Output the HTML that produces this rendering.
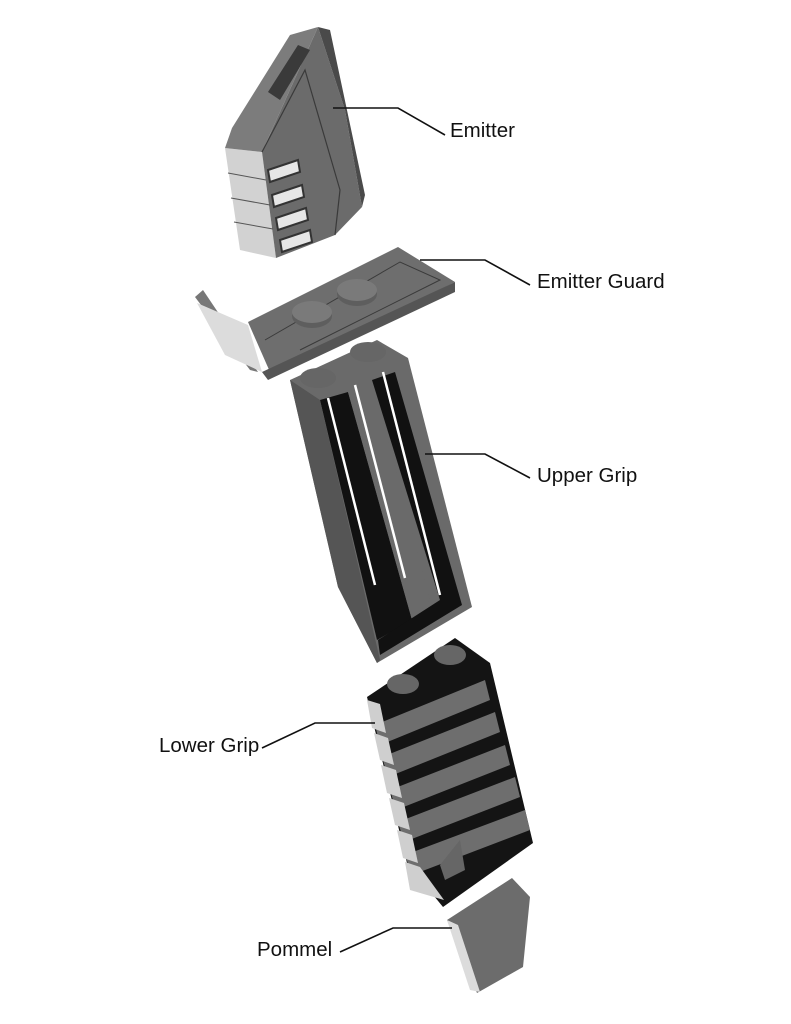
<!DOCTYPE html>
<html><head><style>
body{margin:0;background:#fff;}
svg{display:block;}
text{font-family:"Liberation Sans",sans-serif;font-size:20.5px;fill:#111;}
</style></head><body>
<svg width="791" height="1024" viewBox="0 0 791 1024">
<!-- Emitter -->
<polygon points="225,148 262,152 276,258 240,250" fill="#d2d2d2"/>
<polygon points="262,152 318,27 345,110 362,207 335,235 276,258" fill="#6b6b6b"/>
<polygon points="232,128 290,35 318,27 262,152 225,148" fill="#7c7c7c"/>
<polygon points="318,27 330,30 365,195 362,207 345,110" fill="#4a4a4a"/>
<polygon points="268,92 298,45 310,50 280,100" fill="#3a3a3a" rx="4"/>
<polyline points="262,152 305,70 340,190 335,235" fill="none" stroke="#3a3a3a" stroke-width="1.2"/>
<g fill="#e6e6e6" stroke="#333" stroke-width="2">
<polygon points="268,170 298,160 300,172 270,182"/>
<polygon points="272,195 302,185 304,197 274,207"/>
<polygon points="276,218 306,208 308,220 278,230"/>
<polygon points="280,240 310,230 312,242 282,252"/>
</g>
<g stroke="#555" stroke-width="1"><line x1="228" y1="173" x2="266" y2="180"/><line x1="231" y1="198" x2="270" y2="205"/><line x1="234" y1="222" x2="273" y2="229"/></g>
<!-- Emitter Guard -->
<polygon points="195,297 250,370 258,372 203,290" fill="#777"/>
<polygon points="197,303 248,325 262,372 225,355" fill="#dcdcdc"/>
<polygon points="248,322 398,247 455,282 270,372" fill="#6e6e6e"/>
<polygon points="262,372 455,282 455,292 268,380" fill="#555"/>
<polyline points="265,340 400,262 440,280 300,350" fill="none" stroke="#3a3a3a" stroke-width="1"/>
<ellipse cx="312" cy="316" rx="20" ry="12" fill="#5e5e5e"/><ellipse cx="312" cy="312" rx="20" ry="11" fill="#7a7a7a"/>
<ellipse cx="357" cy="294" rx="20" ry="12" fill="#5e5e5e"/><ellipse cx="357" cy="290" rx="20" ry="11" fill="#7a7a7a"/>
<!-- Upper Grip -->
<polygon points="290,380 377,340 408,358 472,607 377,663 338,587" fill="#6a6a6a"/>
<polygon points="320,400 348,392 412,620 377,640" fill="#111"/>
<polygon points="348,392 372,380 430,600 412,620" fill="#6a6a6a"/>
<polygon points="372,380 395,372 462,605 380,655 378,640 440,600" fill="#111"/>
<g stroke="#fff" stroke-width="2.5"><line x1="328" y1="398" x2="375" y2="585"/><line x1="355" y1="385" x2="405" y2="578"/><line x1="383" y1="372" x2="440" y2="595"/></g>
<polygon points="290,380 320,400 380,660 377,663 338,587" fill="#555"/>
<ellipse cx="318" cy="378" rx="18" ry="10" fill="#666"/><ellipse cx="368" cy="352" rx="18" ry="10" fill="#666"/>
<!-- Lower Grip -->
<polygon points="367,697 455,638 490,663 533,843 443,907 407,863" fill="#141414"/>
<g fill="#6e6e6e">
<polygon points="375,725 485,680 490,700 380,745"/>
<polygon points="382,757 495,712 500,732 388,777"/>
<polygon points="390,790 505,745 510,765 396,810"/>
<polygon points="398,822 515,777 520,797 404,842"/>
<polygon points="405,855 525,810 530,830 412,875"/>
</g>
<g fill="#cfcfcf">
<polygon points="367,700 380,704 386,733 372,728"/>
<polygon points="374,733 388,738 394,765 380,760"/>
<polygon points="381,765 396,770 402,798 387,793"/>
<polygon points="389,798 404,803 410,830 395,825"/>
<polygon points="397,830 412,835 418,863 403,858"/>
<polygon points="405,862 420,867 444,900 410,890"/>
</g>
<polygon points="440,865 460,840 465,870 445,880" fill="#666"/>
<ellipse cx="403" cy="684" rx="16" ry="10" fill="#666"/><ellipse cx="450" cy="655" rx="16" ry="10" fill="#666"/>
<!-- Pommel -->
<polygon points="447,920 512,878 530,897 523,967 477,993" fill="#6c6c6c"/>
<polygon points="447,920 458,925 480,992 470,990" fill="#dcdcdc"/>
<!-- Leader lines -->
<g fill="none" stroke="#111" stroke-width="1.6">
<polyline points="333,108 398,108 445,135"/>
<polyline points="420,260 485,260 530,285"/>
<polyline points="425,454 485,454 530,478"/>
<polyline points="262,748 315,723 375,723"/>
<polyline points="340,952 393,928 452,928"/>
</g>
<text x="450" y="137">Emitter</text>
<text x="537" y="288">Emitter Guard</text>
<text x="537" y="482">Upper Grip</text>
<text x="159" y="752">Lower Grip</text>
<text x="257" y="956">Pommel</text>
</svg>
</body></html>
